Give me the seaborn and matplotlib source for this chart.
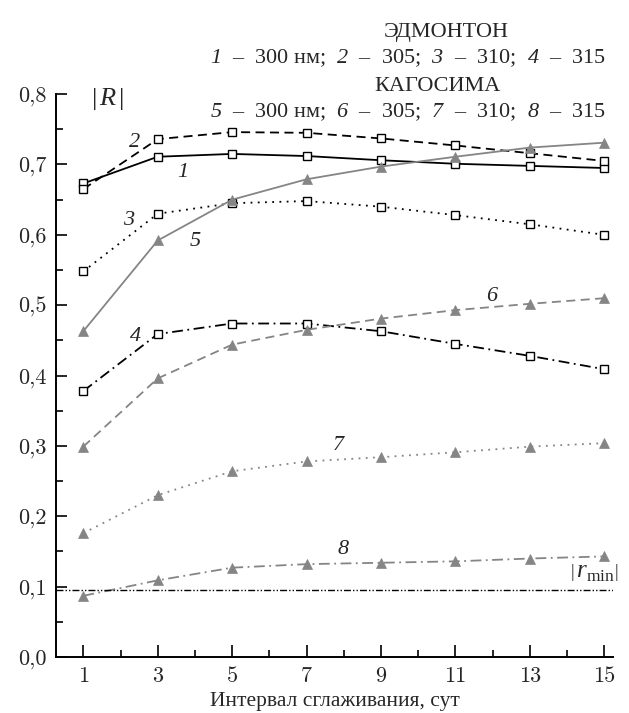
import numpy as np
import pandas as pd
import seaborn as sns
import matplotlib.pyplot as plt
from matplotlib.ticker import FixedLocator

# smoothing interval, days
interval = [1, 3, 5, 7, 9, 11, 13, 15]

# Edmonton, |R| for 300, 305, 310, 315 nm
edm_300 = [0.673, 0.711, 0.715, 0.712, 0.706, 0.701, 0.698, 0.695]
edm_305 = [0.665, 0.736, 0.746, 0.745, 0.737, 0.727, 0.716, 0.705]
edm_310 = [0.548, 0.630, 0.645, 0.648, 0.640, 0.628, 0.615, 0.600]
edm_315 = [0.378, 0.459, 0.474, 0.474, 0.463, 0.445, 0.428, 0.409]

# Kagoshima, |R| for 300, 305, 310, 315 nm
kag_300 = [0.463, 0.592, 0.650, 0.679, 0.697, 0.711, 0.724, 0.731]
kag_305 = [0.299, 0.396, 0.444, 0.465, 0.481, 0.493, 0.502, 0.510]
kag_310 = [0.176, 0.230, 0.264, 0.278, 0.284, 0.291, 0.299, 0.304]
kag_315 = [0.087, 0.109, 0.127, 0.132, 0.134, 0.136, 0.140, 0.143]

r_min = 0.095

curve_ids = ["1", "2", "3", "4", "5", "6", "7", "8"]
label_x = [3.68, 2.38, 2.22, 2.41, 4.0, 11.98, 7.86, 7.99]
label_y = [0.688, 0.731, 0.620, 0.456, 0.590, 0.513, 0.300, 0.153]

y_ticks = [0.0, 0.1, 0.2, 0.3, 0.4, 0.5, 0.6, 0.7, 0.8]
y_tick_labels = ["0,0", "0,1", "0,2", "0,3", "0,4", "0,5", "0,6", "0,7", "0,8"]
x_ticks = [1, 3, 5, 7, 9, 11, 13, 15]

sns.set_theme(style="ticks")
plt.rcParams["font.family"] = ["Liberation Serif", "DejaVu Serif"]
plt.rcParams["mathtext.fontset"] = "custom"
plt.rcParams["mathtext.rm"] = "Liberation Serif"
plt.rcParams["mathtext.it"] = "Liberation Serif:italic"
# 'it' keeps digits upright, so italic digits go through the sf slot
plt.rcParams["mathtext.sf"] = "Liberation Serif:italic"

series = [edm_300, edm_305, edm_310, edm_315, kag_300, kag_305, kag_310, kag_315]
df = pd.DataFrame({
    "interval": interval * len(series),
    "R": np.concatenate(series),
    "curve": np.repeat(curve_ids, len(interval)),
})

black = "black"
gray = "#858585"
styles = {
    "1": dict(color=black, ls="-", marker="s"),
    "2": dict(color=black, ls=(0, (5, 3)), marker="s"),
    "3": dict(color=black, ls=(0, (1, 3)), marker="s"),
    "4": dict(color=black, ls=(0, (6, 2.5, 1, 2.5)), marker="s"),
    "5": dict(color=gray, ls="-", marker="^"),
    "6": dict(color=gray, ls=(0, (5, 3)), marker="^"),
    "7": dict(color=gray, ls=(0, (1, 3)), marker="^"),
    "8": dict(color=gray, ls=(0, (6, 2.5, 1, 2.5)), marker="^"),
}

fig = plt.figure(figsize=(6.29, 7.13), dpi=100)
ax = fig.add_axes([0.089, 0.0785, 0.886, 0.7895])

for cid in curve_ids:
    st = styles[cid]
    sub = df[df["curve"] == cid]
    if st["marker"] == "s":
        mk = dict(marker="s", markersize=5.5, markerfacecolor="white",
                  markeredgecolor="black", markeredgewidth=1.0)
    else:
        mk = dict(marker="^", markersize=7, markerfacecolor=gray,
                  markeredgecolor=gray, markeredgewidth=0.5)
    sns.lineplot(data=sub, x="interval", y="R", ax=ax, color=st["color"],
                 linestyle=st["ls"], linewidth=1.3, legend=False, **mk)

ax.axhline(r_min, color="black", lw=1.0, ls=(0, (5, 1.5, 1, 1.5, 1, 1.5)))

for cid, lx, ly in zip(curve_ids, label_x, label_y):
    ax.text(lx, ly, cid, fontsize=16, style="italic", ha="center", va="center")

ax.text(1.64, 0.793, r"$|\,R\,|$", fontsize=19, ha="center", va="center")
ax.text(14.73, 0.121, r"$\left|\,r_{\mathrm{min}}\right|$", fontsize=18, ha="center", va="center")

ax.set_xlim(0.266, 15.24)
ax.set_ylim(0, 0.8)
ax.set_xticks(x_ticks)
ax.set_xticklabels([str(v) for v in x_ticks], fontsize=16, fontfamily="cmr10")
ax.xaxis.set_minor_locator(FixedLocator([2, 4, 6, 8, 10, 12, 14]))
ax.set_yticks(y_ticks)
ax.set_yticklabels(y_tick_labels, fontsize=16, fontfamily="cmr10")
ax.yaxis.set_minor_locator(FixedLocator([0.05, 0.15, 0.25, 0.35, 0.45, 0.55, 0.65, 0.75]))
ax.tick_params(axis="x", which="major", direction="in", length=9, width=1.4, pad=7)
ax.tick_params(axis="x", which="minor", direction="in", length=5, width=1.4)
ax.tick_params(axis="y", which="major", direction="in", length=8, width=1.4, pad=7)
ax.tick_params(axis="y", which="minor", direction="in", length=5, width=1.4)
ax.set_xlabel("Интервал сглаживания, сут", fontsize=15.5, labelpad=4)
ax.set_ylabel("")
sns.despine(ax=ax)
for sp in ["left", "bottom"]:
    ax.spines[sp].set_linewidth(1.4)
    ax.spines[sp].set_color("black")

fig.text(0.709, 0.954, "ЭДМОНТОН", fontsize=16, ha="center", va="center")
fig.text(0.963, 0.919,
         r"$\mathsf{1}$  –  300 нм;  $\mathsf{2}$  –  305;  $\mathsf{3}$  –  310;  $\mathsf{4}$  –  315",
         fontsize=16, ha="right", va="center")
fig.text(0.696, 0.879, "КАГОСИМА", fontsize=16, ha="center", va="center")
fig.text(0.963, 0.843,
         r"$\mathsf{5}$  –  300 нм;  $\mathsf{6}$  –  305;  $\mathsf{7}$  –  310;  $\mathsf{8}$  –  315",
         fontsize=16, ha="right", va="center")

fig.savefig("out.png", dpi=100, facecolor="white")
